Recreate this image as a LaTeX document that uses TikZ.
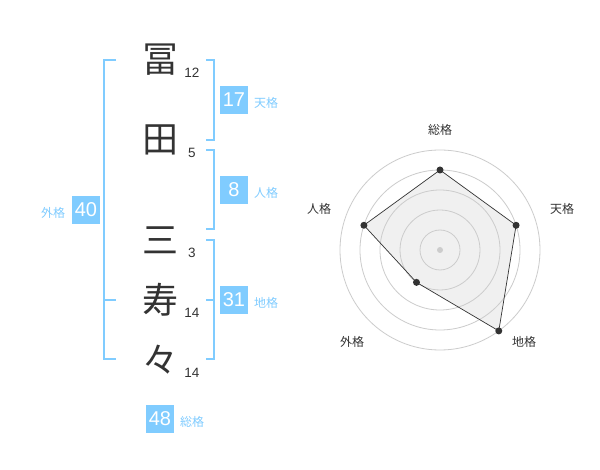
\documentclass[tikz,border=0pt]{standalone}
\usepackage{fontspec}
\setmainfont{Noto Sans CJK JP}
\newfontfamily\numfont{Liberation Sans}
\usepackage{tikz}
\usetikzlibrary{positioning}

\definecolor{kakublue}{HTML}{80CCFF}
\definecolor{inkgray}{HTML}{333333}
\definecolor{ringgray}{HTML}{CCCCCC}
\definecolor{areagray}{HTML}{F0F0F0}

\tikzset{
    kanji/.style={text=inkgray, inner sep=0pt, font=\fontsize{36}{36}\selectfont},
    strokes/.style={text=inkgray, inner sep=0pt, font=\numfont\fontsize{13.5}{13.5}\selectfont},
    kakubox/.style={fill=kakublue, text=white, minimum size=28pt, inner sep=0pt, font=\numfont\fontsize{20}{20}\selectfont},
    kakuname/.style={text=kakublue, inner sep=0pt, font=\fontsize{12}{12}\selectfont},
    bracket/.style={draw=kakublue, line width=1.5pt},
    axisname/.style={text=inkgray, inner sep=0pt, font=\fontsize{12}{12}\selectfont},
}

\begin{document}
\begin{tikzpicture}[x=1pt,y=-1pt]
    \useasboundingbox[fill=white] (0,0) rectangle (600,470);

    % name
    \node[kanji] (c1) at (160,60) {冨};
    \node[kanji] (c2) at (160,140) {田};
    \node[kanji] (c3) at (160,240) {三};
    \node[kanji] (c4) at (160,300) {寿};
    \node[kanji] (c5) at (160,360) {々};

    \node[strokes] (s1) at (192,73) {12};
    \node[strokes] (s2) at (192,153) {5};
    \node[strokes] (s3) at (192,253) {3};
    \node[strokes] (s4) at (192,313) {14};
    \node[strokes] (s5) at (192,373) {14};

    % brackets
    \draw[bracket] (206,60) -- (214,60) -- (214,140) -- (206,140);
    \draw[bracket] (206,150) -- (214,150) -- (214,229) -- (206,229);
    \draw[bracket] (206,240) -- (214,240) -- (214,359) -- (206,359);
    \draw[bracket] (206,300) -- (214,300);
    \draw[bracket] (116,60) -- (104,60) -- (104,359) -- (116,359);
    \draw[bracket] (104,300) -- (116,300);

    % kaku
    \node[kakubox] (ten) at (234,100) {17};
    \node[kakuname] (tenl) at (266,103) {天格};
    \node[kakubox] (jin) at (234,190) {8};
    \node[kakuname] (jinl) at (266,193) {人格};
    \node[kakubox] (chi) at (234,300) {31};
    \node[kakuname] (chil) at (266,303) {地格};
    \node[kakubox] (gai) at (86,210) {40};
    \node[kakuname] (gail) at (53,213) {外格};
    \node[kakubox] (sou) at (160,419) {48};
    \node[kakuname] (soul) at (192,422) {総格};

    % radar
    \begin{scope}[shift={(440,250)}, x=1pt, y=1pt]
        \coordinate (r-sou) at (90:80);
        \coordinate (r-ten) at (18:80);
        \coordinate (r-chi) at (-54:100);
        \coordinate (r-gai) at (-126:40);
        \coordinate (r-jin) at (162:80);

        \fill[areagray] (r-sou) -- (r-ten) -- (r-chi) -- (r-gai) -- (r-jin) -- cycle;

        \draw[ringgray, line width=0.8pt] (0,0) circle (20);
        \draw[ringgray, line width=0.8pt] (0,0) circle (40);
        \draw[ringgray, line width=0.8pt] (0,0) circle (60);
        \draw[ringgray, line width=0.8pt] (0,0) circle (80);
        \draw[ringgray, line width=0.8pt] (0,0) circle (100);
        \fill[ringgray] (0,0) circle (3);

        \draw[inkgray, line width=0.7pt] (r-sou) -- (r-ten) -- (r-chi) -- (r-gai) -- (r-jin) -- cycle;

        \fill[inkgray] (r-sou) circle (3.5);
        \fill[inkgray] (r-ten) circle (3.5);
        \fill[inkgray] (r-chi) circle (3.5);
        \fill[inkgray] (r-gai) circle (3.5);
        \fill[inkgray] (r-jin) circle (3.5);
    \end{scope}

    \node[axisname] (a-sou) at (440,130) {総格};
    \node[axisname] (a-ten) at (562,209) {天格};
    \node[axisname] (a-chi) at (524,342) {地格};
    \node[axisname] (a-gai) at (352,342) {外格};
    \node[axisname] (a-jin) at (319,209) {人格};
\end{tikzpicture}
\end{document}
